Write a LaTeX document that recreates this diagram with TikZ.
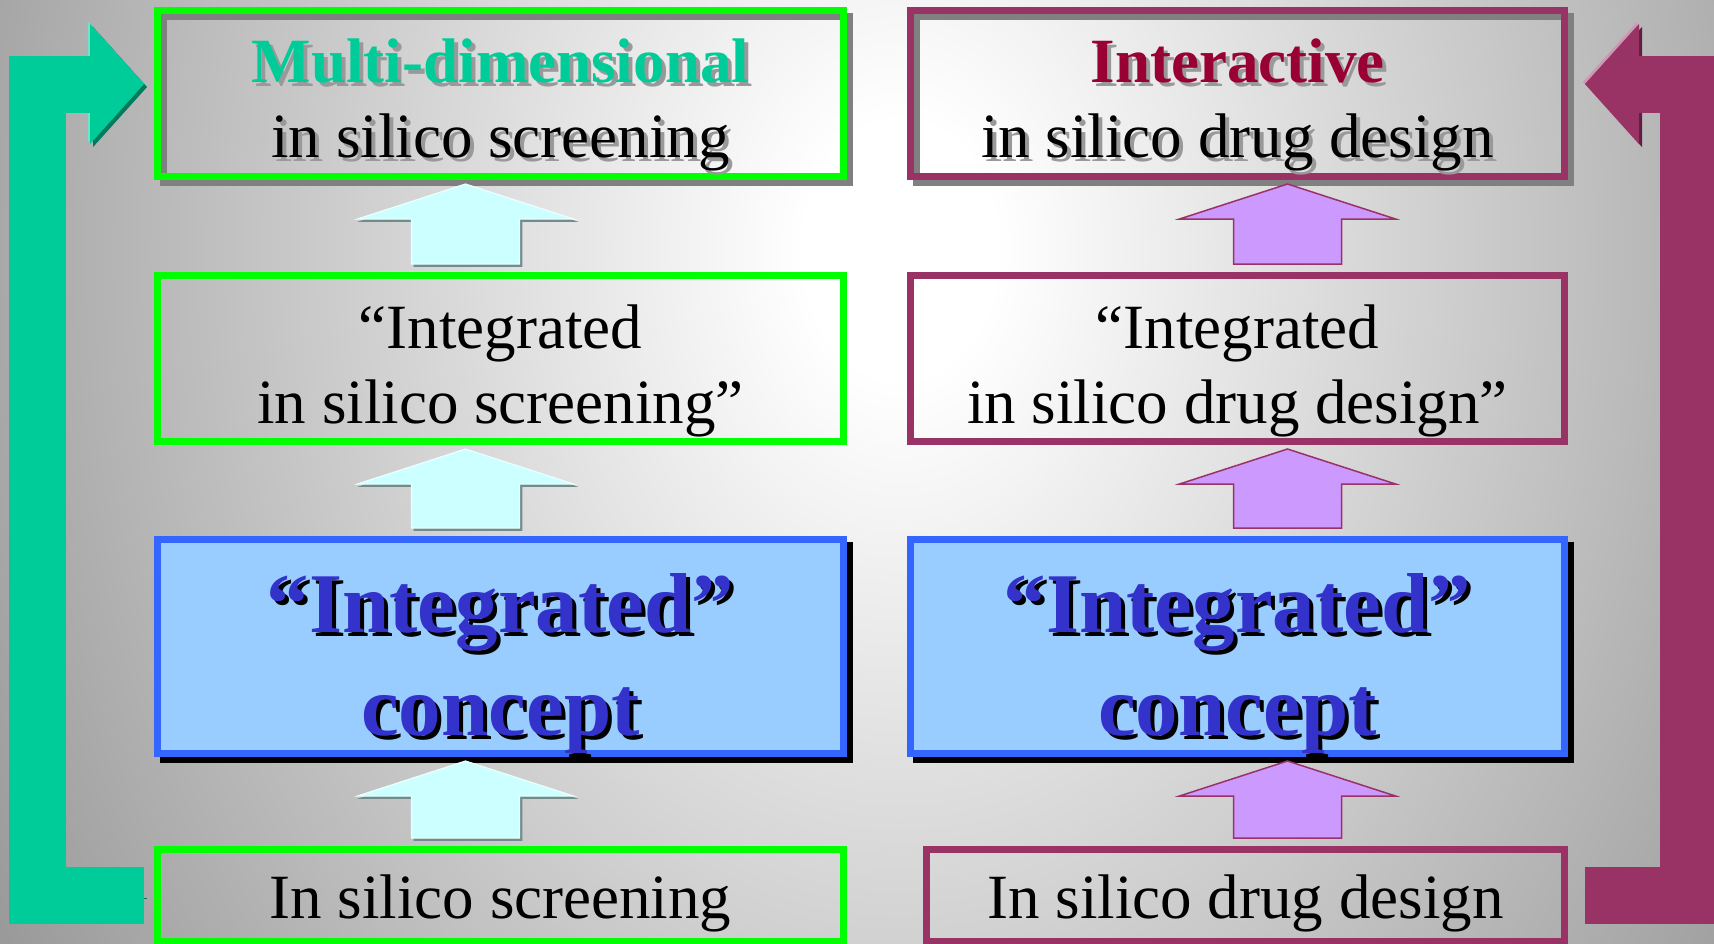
\documentclass[tikz,border=0pt]{standalone}
\usepackage{fontspec}
\setmainfont{Liberation Serif}
\usetikzlibrary{positioning, calc, arrows.meta}

\definecolor{seagreen}{HTML}{00CC99}
\definecolor{seadark}{HTML}{007A5C}
\definecolor{plum}{HTML}{993366}
\definecolor{plumdark}{HTML}{5C1F3D}
\definecolor{limeline}{HTML}{00FF00}
\definecolor{ideablue}{HTML}{3366FF}
\definecolor{ideafill}{HTML}{99CCFF}
\definecolor{ideatxt}{HTML}{3333CC}
\definecolor{crimsontxt}{HTML}{990033}
\definecolor{iceblue}{HTML}{CCFFFF}
\definecolor{lilac}{HTML}{CC99FF}
\definecolor{bgedge}{HTML}{888888}

% the path fills the inner 25bp radius of the shading
\pgfdeclareradialshading{bgglow}{\pgfpointorigin}{color(0bp)=(white); color(2bp)=(white); color(25bp)=(bgedge); color(50bp)=(bgedge)}

% text with a drop shadow: shadow colour, offset, text colour, text
\newcommand{\shadowed}[4]{\leavevmode\rlap{\kern#2\raisebox{-#2}{\textcolor{#1}{#4}}}\textcolor{#3}{#4}}

\begin{document}
\begin{tikzpicture}[
    x=0.5pt, y=-0.5pt,
    % Boxes
    box/.style={rectangle, line width=3.5pt, inner sep=0pt},
    leftcol/.style={minimum width=343pt},
    rightcol/.style={minimum width=327pt},
    greenbox/.style={box, leftcol, draw=limeline},
    plumbox/.style={box, rightcol, draw=plum},
    conceptbox/.style={box, draw=ideablue, fill=ideafill, minimum height=107pt,
        preaction={draw=black, fill=black, transform canvas={shift={(3pt,-3pt)}}}},
    raised/.style={preaction={draw=gray, transform canvas={shift={(3pt,-3pt)}}}},
    % Texts
    bodytxt/.style={font=\fontsize{31.5}{37.5}\selectfont, inner sep=0pt, anchor=base},
    headtxt/.style={bodytxt, font=\fontsize{31.5}{37.5}\selectfont\bfseries},
    concepttxt/.style={font=\fontsize{42.5}{51}\selectfont\bfseries, inner sep=0pt, anchor=base},
    % Block arrows
    blockup/.style={to path={let \p1=(\tikztostart), \p2=(\tikztotarget) in
        ({\x2-27pt},{\y1+4pt}) -- ({\x2-27pt},{\y2-19.5pt}) -- ({\x2-54pt},{\y2-19.5pt})
        -- ({\x2},{\y2-2pt}) -- ({\x2+54pt},{\y2-19.5pt}) -- ({\x2+27pt},{\y2-19.5pt})
        -- ({\x2+27pt},{\y1+4pt}) -- cycle}},
    iceup/.style={blockup, fill=iceblue, draw=white!60!iceblue, line width=0.6pt,
        preaction={fill=black!45!iceblue, draw=black!45!iceblue, transform canvas={shift={(1.2pt,-1.2pt)}}}},
    lilacup/.style={blockup, fill=lilac, draw=plum, line width=0.75pt},
    % Loops
    loop/.style={line width=28.5pt, -{Triangle[length=27pt, width=60pt, line width=0.4pt]}},
    loopleft/.style={loop, draw=seagreen,
        preaction={draw=seadark, transform canvas={shift={(1.5pt,-1.5pt)}}},
        preaction={draw=seagreen!55!white, transform canvas={shift={(-1pt,1pt)}}}},
    loopright/.style={loop, draw=plum,
        preaction={draw=plumdark, transform canvas={shift={(1.5pt,-1.5pt)}}},
        preaction={draw=plum!50!white, transform canvas={shift={(-1pt,1pt)}}}}
]

    % --- BACKGROUND ---
    \begin{scope}
        \clip (0,0) rectangle (1714,943);
        \fill[bgedge] (0,0) rectangle (1714,943);
        \shade[shading=bgglow] (900,250) ellipse (600pt and 800pt);
    \end{scope}
    \useasboundingbox (0,0) rectangle (1714,943);

    % --- LEFT COLUMN: SCREENING ---
    \node[greenbox, raised, minimum height=83pt] (L4) at (500.5,93.5) {};
    \node[greenbox, minimum height=83pt] (L3) at (500.5,358.5) {};
    \node[conceptbox, leftcol] (L2) at (500.5,646.5) {};
    \node[greenbox, minimum height=46pt] (L1) at (500.5,895.5) {};

    % --- RIGHT COLUMN: DRUG DESIGN ---
    \node[plumbox, raised, minimum height=83pt] (R4) at (1237.5,93.5) {};
    \node[plumbox, minimum height=83pt] (R3) at (1237.5,358.5) {};
    \node[conceptbox, rightcol] (R2) at (1237.5,646.5) {};
    \node[plumbox, minimum width=319pt, minimum height=46pt] (R1) at (1245.5,895.5) {};

    % --- BLOCK ARROWS ---
    \foreach \lo/\hi in {L1/L2, L2/L3, L3/L4} {
        \draw[iceup] (\lo.north) to ($(\hi.south)+(-35,0)$);
    }
    \foreach \lo/\hi in {R1/R2, R2/R3, R3/R4} {
        \draw[lilacup] (\lo.north) to ($(\hi.south)+(50,0)$);
    }

    % --- FEEDBACK LOOPS ---
    \coordinate (lbar) at (37,0);
    \coordinate (rbar) at (1688,0);
    \coordinate (LT) at ($(L4.west)+(0,-9.5)$);
    \coordinate (RT) at ($(R4.east)+(0,-9.5)$);
    \draw[loopleft] ($(L1.west)+(-10,0)$) -- (L1.west -| lbar) -- (LT -| lbar) -- ($(LT)+(-10,0)$);
    \draw[loopright] ($(R1.east)+(17,0)$) -- (R1.east -| rbar) -- (RT -| rbar) -- ($(RT)+(17,0)$);

    % --- TEXTS ---
    \node[headtxt] (L4a) at ($(L4.center)+(0,-11.5)$) {\shadowed{gray!80}{2pt}{seagreen}{Multi-dimensional}};
    \node[bodytxt] (L4b) at ($(L4a.base)+(0,75)$) {\shadowed{gray!80}{2pt}{black}{in silico screening}};
    \node[bodytxt] (L3a) at ($(L3.center)+(0,-10.5)$) {“Integrated};
    \node[bodytxt] (L3b) at ($(L3a.base)+(0,75)$) {in silico screening”};
    \node[concepttxt] (L2a) at ($(L2.center)+(0,-14.5)$) {\shadowed{black}{2pt}{ideatxt}{“Integrated”}};
    \node[concepttxt] (L2b) at ($(L2a.base)+(0,103)$) {\shadowed{black}{2pt}{ideatxt}{concept}};
    \node[bodytxt] (L1a) at ($(L1.center)+(0,22.5)$) {In silico screening};

    \node[headtxt] (R4a) at ($(R4.center)+(0,-11.5)$) {\shadowed{gray!80}{2pt}{crimsontxt}{Interactive}};
    \node[bodytxt] (R4b) at ($(R4a.base)+(0,75)$) {\shadowed{gray!80}{2pt}{black}{in silico drug design}};
    \node[bodytxt] (R3a) at ($(R3.center)+(0,-10.5)$) {“Integrated};
    \node[bodytxt] (R3b) at ($(R3a.base)+(0,75)$) {in silico drug design”};
    \node[concepttxt] (R2a) at ($(R2.center)+(0,-14.5)$) {\shadowed{black}{2pt}{ideatxt}{“Integrated”}};
    \node[concepttxt] (R2b) at ($(R2a.base)+(0,103)$) {\shadowed{black}{2pt}{ideatxt}{concept}};
    \node[bodytxt] (R1a) at ($(R1.center)+(0,22.5)$) {In silico drug design};

\end{tikzpicture}
\end{document}
